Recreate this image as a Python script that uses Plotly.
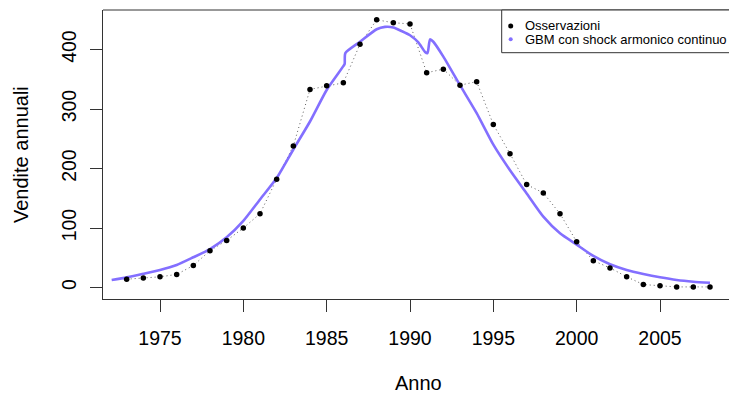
import plotly.graph_objects as go

# ---- data ----
obs_years = list(range(1973, 2009))
obs_sales = [14, 16, 18, 22, 37, 62, 79, 100, 124, 182, 238, 333, 339, 344, 409,
             450, 445, 443, 361, 367, 340, 346, 274, 225, 173, 159, 124, 77,
             45, 33, 18, 5, 3, 1, 1, 1]

fit_years = [1972.1, 1973, 1974, 1975, 1976, 1977, 1978, 1979, 1980, 1981, 1982,
             1983, 1984, 1985, 1986, 1986.08, 1986.12, 1987, 1988, 1988.5, 1989,
             1989.5, 1990, 1990.5, 1990.9, 1991.05, 1991.2, 1991.4, 1992, 1993,
             1994, 1995, 1996, 1997, 1998, 1999, 2000, 2001, 2002, 2003, 2004,
             2005, 2006, 2007, 2008]
fit_sales = [12.5, 17, 23, 29.4, 37.8, 50.8, 64.7, 84.4, 112, 148, 184,
             232, 279, 332, 372, 376, 394, 413, 434, 438, 437,
             431, 424, 412, 396, 394, 417, 413, 388, 340,
             293, 240, 197, 158, 119, 91, 72, 53, 39, 29.4, 22.7,
             17.1, 12.6, 9.8, 8]

x_ticks = [1975, 1980, 1985, 1990, 1995, 2000, 2005]
y_ticks = [0, 100, 200, 300, 400]

legend_labels = ["Osservazioni", "GBM con shock armonico continuo"]

PURPLE = "#836FFF"
FONT = "Liberation Sans, Arial, sans-serif"
AXC = "#333333"

fig = go.Figure()
fig.add_trace(go.Scatter(x=obs_years, y=obs_sales, mode="lines",
                         line=dict(color="#333333", width=0.8, dash="1px,3px"),
                         hoverinfo="skip", showlegend=False))
fig.add_trace(go.Scatter(x=fit_years, y=fit_sales, mode="lines",
                         line=dict(color=PURPLE, width=2.6, shape="spline",
                                   smoothing=0.6),
                         showlegend=False, name=legend_labels[1]))
fig.add_trace(go.Scatter(x=obs_years, y=obs_sales, mode="markers",
                         marker=dict(color="black", size=5.5),
                         showlegend=False, name=legend_labels[0]))

L, T, B = 103, 10, 100
W, H = 729, 399
PW, PH = W - L, H - T - B

def px(xp):
    return (xp - L) / PW

def py(yp):
    return 1 - (yp - T) / PH

shapes = [
    dict(type="line", xref="paper", yref="paper", x0=0, x1=1.02, y0=1, y1=1,
         line=dict(color=AXC, width=1)),
    dict(type="rect", xref="paper", yref="paper", x0=px(501.7), x1=1.05,
         y0=py(52.7), y1=1, line=dict(color=AXC, width=1), fillcolor="white",
         layer="above"),
    dict(type="circle", xref="paper", yref="paper", xsizemode="pixel",
         ysizemode="pixel", xanchor=px(510.7), yanchor=py(26),
         x0=-2.5, x1=2.5, y0=-2.5, y1=2.5, fillcolor="black",
         line=dict(width=0), layer="above"),
    dict(type="circle", xref="paper", yref="paper", xsizemode="pixel",
         ysizemode="pixel", xanchor=px(510.7), yanchor=py(39.3),
         x0=-2, x1=2, y0=-2, y1=2, fillcolor=PURPLE,
         line=dict(width=0), layer="above"),
]

annotations = [
    dict(text=legend_labels[0], xref="paper", yref="paper", x=px(522.5),
         y=py(26), xanchor="left", yanchor="middle", showarrow=False,
         font=dict(size=13, color="black", family=FONT)),
    dict(text=legend_labels[1], xref="paper", yref="paper", x=px(522.5),
         y=py(39.3), xanchor="left", yanchor="middle", showarrow=False,
         font=dict(size=13, color="black", family=FONT)),
    dict(text="Anno", xref="paper", yref="paper", x=px(418.3), y=py(383),
         xanchor="center", yanchor="middle", showarrow=False,
         font=dict(size=20, color="black", family=FONT)),
    dict(text="Vendite annuali", xref="paper", yref="paper", x=px(21),
         y=py(155), xanchor="center", yanchor="middle", showarrow=False,
         textangle=-90, font=dict(size=20, color="black", family=FONT)),
]

fig.update_layout(
    width=W, height=H,
    margin=dict(l=L, r=0, t=T, b=B, pad=0),
    paper_bgcolor="white", plot_bgcolor="white",
    font=dict(family=FONT, size=19.5, color="black"),
    shapes=shapes, annotations=annotations,
    xaxis=dict(range=[1971.58, 2009.14], tickvals=x_ticks,
               ticks="outside", ticklen=11.7, tickwidth=1, tickcolor=AXC,
               showline=True, linecolor=AXC, linewidth=1, showgrid=False,
               zeroline=False, ticklabelstandoff=10,
               tickfont=dict(size=19.5, color="black")),
    yaxis=dict(range=[-19.3, 466.4], tickvals=y_ticks, tickangle=-90,
               ticks="outside", ticklen=11.7, tickwidth=1, tickcolor=AXC,
               showline=True, linecolor=AXC, linewidth=1, showgrid=False,
               zeroline=False, ticklabelstandoff=7,
               tickfont=dict(size=19.5, color="black")),
)

fig.write_html("out.html")
